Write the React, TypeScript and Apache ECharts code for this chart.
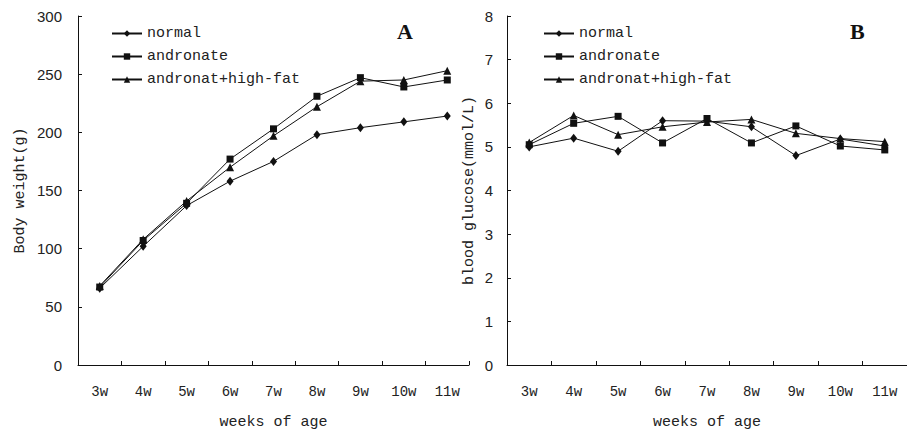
import React, { useEffect, useRef } from "react";
import * as echarts from "echarts";

const categories = ["3w", "4w", "5w", "6w", "7w", "8w", "9w", "10w", "11w"];
const seriesNames = ["normal", "andronate", "andronat+high-fat"];
const weightNormal = [66, 102, 137, 158, 175, 198, 204, 209, 214];
const weightAndronate = [67, 107, 139, 177, 203, 231, 247, 239, 245];
const weightHighFat = [68, 108, 141, 170, 197, 222, 244, 245, 253];
const glucoseNormal = [5.0, 5.2, 4.9, 5.6, 5.59, 5.46, 4.8, 5.18, 5.02];
const glucoseAndronate = [5.05, 5.54, 5.7, 5.09, 5.65, 5.09, 5.48, 5.02, 4.93];
const glucoseHighFat = [5.1, 5.72, 5.28, 5.46, 5.57, 5.63, 5.31, 5.19, 5.12];
const weightTicks = { min: 0, max: 300, interval: 50 };
const glucoseTicks = { min: 0, max: 8, interval: 1 };

const symbols = ["diamond", "rect", "triangle"];
const symbolSizes: any[] = [[7, 9], 7, 8];

export default function App() {
  const ref = useRef<HTMLDivElement>(null);
  useEffect(() => {
    if (!ref.current) return;
    const chart = echarts.init(ref.current, undefined, { renderer: "svg" });
    const ink = "#111";
    const mono = "'Liberation Mono', 'Courier New', monospace";
    const axisCommon = {
      axisLine: { show: true, lineStyle: { color: ink, width: 1 } },
      axisTick: { show: true, inside: true, length: 4, lineStyle: { color: ink } },
      splitLine: { show: false },
    };
    const xAxis = (gridIndex: number) => ({
      type: "category",
      gridIndex,
      data: categories,
      boundaryGap: true,
      ...axisCommon,
      axisLabel: { color: "#222", fontFamily: mono, fontSize: 14, margin: 20 },
      name: "weeks of age",
      nameLocation: "middle",
      nameGap: 50,
      nameTextStyle: { color: "#222", fontFamily: mono, fontSize: 15 },
    });
    const yAxis = (gridIndex: number, t: any, name: string, margin: number, nameGap: number) => ({
      type: "value",
      gridIndex,
      min: t.min,
      max: t.max,
      interval: t.interval,
      ...axisCommon,
      axisLabel: { color: "#222", fontFamily: "'Liberation Sans', sans-serif", fontSize: 15, margin },
      name,
      nameLocation: "middle",
      nameGap,
      nameTextStyle: { color: "#222", fontFamily: mono, fontSize: 15 },
    });
    const dataA = [weightNormal, weightAndronate, weightHighFat];
    const dataB = [glucoseNormal, glucoseAndronate, glucoseHighFat];
    const series: any[] = [];
    [dataA, dataB].forEach((set, gi) => {
      set.forEach((d, i) => {
        series.push({
          type: "line",
          name: seriesNames[i],
          xAxisIndex: gi,
          yAxisIndex: gi,
          data: d,
          symbol: symbols[i],
          symbolSize: symbolSizes[i],
          showAllSymbol: true,
          lineStyle: { color: ink, width: 1 },
          itemStyle: { color: ink },
        });
      });
    });
    const legend = (left: number) => ({
      orient: "vertical",
      left,
      top: 21,
      itemWidth: 30,
      itemHeight: 8,
      itemGap: 8,
      data: seriesNames,
      textStyle: { color: "#222", fontFamily: mono, fontSize: 15 },
      selectedMode: false,
    });
    chart.setOption({
      animation: false,
      backgroundColor: "#fff",
      grid: [
        { left: 78, top: 16, width: 391, height: 354 },
        { left: 507, top: 16, width: 409, height: 354 },
      ],
      xAxis: [xAxis(0), xAxis(1)],
      yAxis: [
        yAxis(0, weightTicks, "Body weight(g)", 16, 50),
        yAxis(1, glucoseTicks, "blood glucose(mmol/L)", 14, 30),
      ],
      legend: [legend(106), legend(538)],
      series,
      graphic: [
        {
          type: "text",
          left: 397,
          top: 20,
          style: { text: "A", font: "bold 22px 'Liberation Serif'", fill: "#111" },
        },
        {
          type: "text",
          left: 850,
          top: 20,
          style: { text: "B", font: "bold 22px 'Liberation Serif'", fill: "#111" },
        },
      ],
    });
    return () => chart.dispose();
  }, []);
  return (
    <div
      ref={ref}
      style={{ position: "fixed", left: 0, top: 0, width: 907, height: 435, background: "#fff" }}
    />
  );
}
